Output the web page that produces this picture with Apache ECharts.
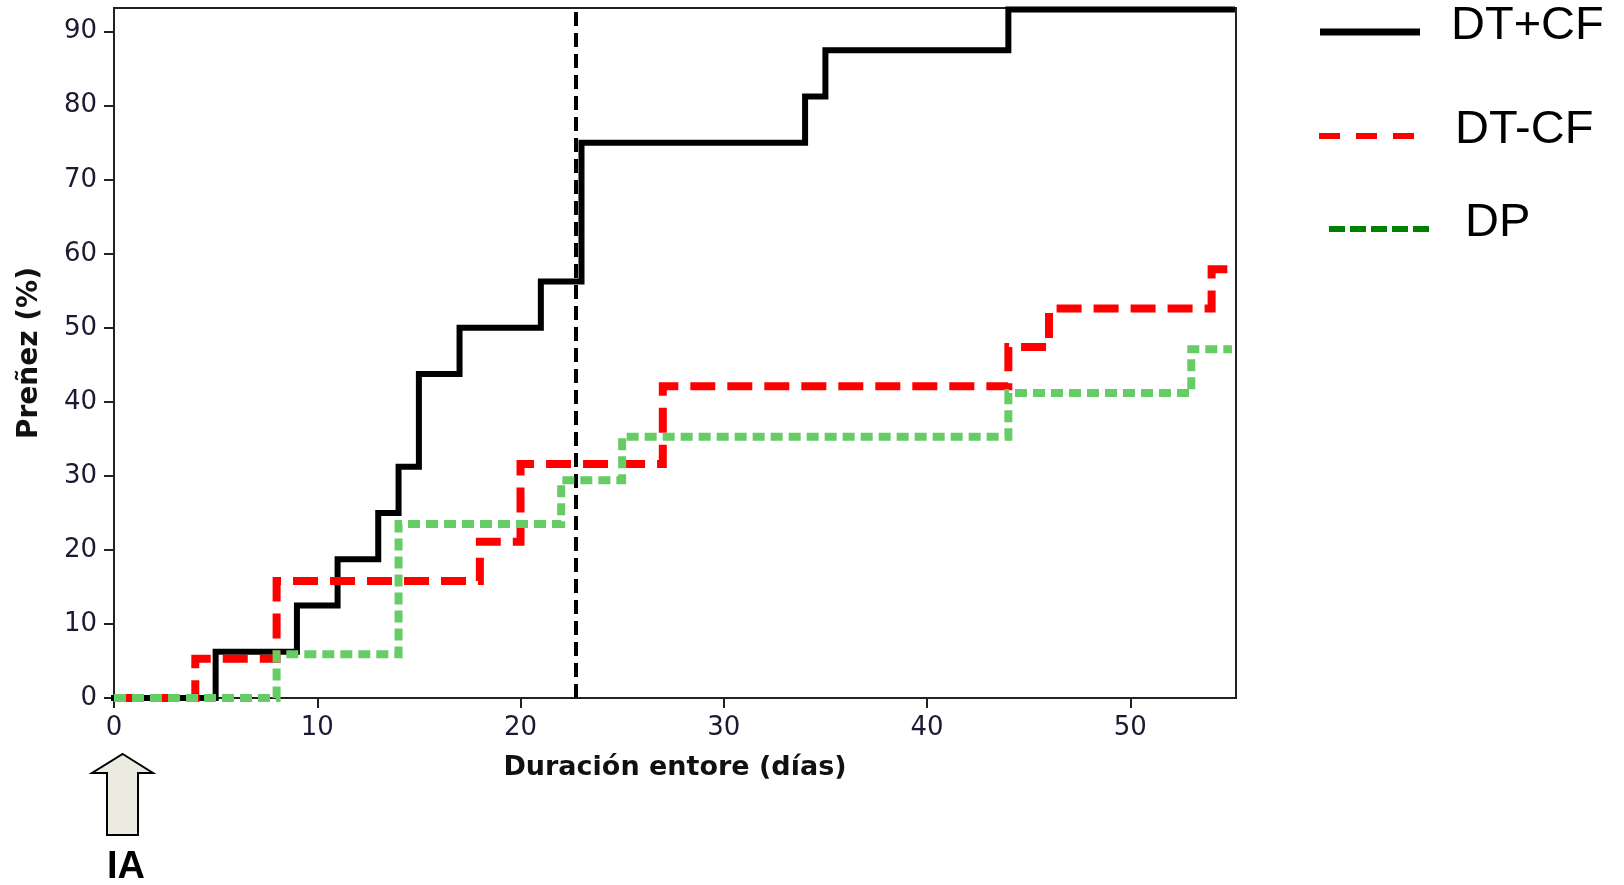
<!DOCTYPE html>
<html>
<head>
<meta charset="utf-8">
<script src="https://cdn.jsdelivr.net/npm/echarts@6/dist/echarts.min.js"></script>
<style>
html,body{margin:0;padding:0;background:#fff;}
#chart{width:1624px;height:885px;}
</style>
</head>
<body>
<div id="chart"></div>
<script>
// ---- data ----
const seriesNames = ['DT+CF', 'DT-CF', 'DP'];
const dtcfPlusX  = [0, 5, 9, 11, 13, 14, 15, 17, 21, 23, 34, 35, 44, 55];
const dtcfPlusY  = [0, 6.25, 12.5, 18.75, 25, 31.25, 43.75, 50, 56.25, 75, 81.25, 87.5, 93, 93];
const dtcfMinusX = [0, 4, 8, 18, 20, 27, 44, 46, 54, 55];
const dtcfMinusY = [0, 5.3, 15.8, 21.1, 31.6, 42.1, 47.4, 52.6, 57.9, 57.9];
const dpX        = [0, 8, 14, 22, 25, 44, 53, 55];
const dpY        = [0, 5.9, 23.5, 29.4, 35.3, 41.2, 47.1, 47.1];
const entoreMark = 22.7;
const xTicks = [0, 10, 20, 30, 40, 50];
const yTicks = [0, 10, 20, 30, 40, 50, 60, 70, 80, 90];
const xTitle = 'Duración entore (días)';
const yTitle = 'Preñez (%)';
const arrowLabel = 'IA';

const zip = (xs, ys) => xs.map((x, i) => [x, ys[i]]);

const chart = echarts.init(document.getElementById('chart'), null, {renderer: 'canvas'});

const tickFont = {fontFamily: 'DejaVu Sans', fontSize: 26, color: '#1a1a33'};

const option = {
  animation: false,
  backgroundColor: '#fff',
  grid: {left: 114, right: 388, top: 8, bottom: 187, show: true, borderColor: '#222', borderWidth: 2, backgroundColor: 'transparent'},
  xAxis: {
    type: 'value', min: 0, max: 55.2,
    name: xTitle, nameLocation: 'middle', nameGap: 56,
    nameTextStyle: {fontFamily: 'DejaVu Sans', fontWeight: 'bold', fontSize: 27, color: '#111'},
    axisLine: {show: true, lineStyle: {color: '#222', width: 2}},
    axisTick: {show: true, length: 10, lineStyle: {color: '#222', width: 2}, customValues: xTicks},
    axisLabel: {...tickFont, margin: 17, customValues: xTicks},
    splitLine: {show: false}
  },
  yAxis: {
    type: 'value', min: 0, max: 93.2,
    name: yTitle, nameLocation: 'middle', nameGap: 70, nameRotate: 90,
    nameTextStyle: {fontFamily: 'DejaVu Sans', fontWeight: 'bold', fontSize: 28, color: '#111'},
    axisLine: {show: true, lineStyle: {color: '#222', width: 2}},
    axisTick: {show: true, length: 10, lineStyle: {color: '#222', width: 2}, customValues: yTicks},
    axisLabel: {...tickFont, margin: 17, customValues: yTicks},
    splitLine: {show: false}
  },
  series: [
    {
      name: seriesNames[0], type: 'line', step: 'end', showSymbol: false, clip: true, z: 3,
      data: zip(dtcfPlusX, dtcfPlusY),
      lineStyle: {color: '#000', width: 6, type: 'solid', cap: 'square', join: 'miter'}
    },
    {
      name: seriesNames[1], type: 'line', step: 'end', showSymbol: false, clip: true, z: 4,
      data: zip(dtcfMinusX, dtcfMinusY),
      lineStyle: {color: '#ff0000', width: 8, type: [25, 12], join: 'miter'}
    },
    {
      name: seriesNames[2], type: 'line', step: 'end', showSymbol: false, clip: true, z: 5,
      data: zip(dpX, dpY),
      lineStyle: {color: '#66cc66', width: 8, type: [12, 6], join: 'miter'}
    },
    {
      name: 'entore', type: 'line', data: [], z: 10,
      markLine: {
        silent: true, symbol: 'none', label: {show: false},
        lineStyle: {color: '#000', width: 4, type: [14, 7]},
        data: [{xAxis: entoreMark}]
      }
    }
  ],
  graphic: [
    // legend
    {type: 'line', shape: {x1: 1320, y1: 32, x2: 1420, y2: 32}, style: {stroke: '#000', lineWidth: 7}},
    {type: 'text', x: 1451, y: 26, style: {text: seriesNames[0], font: '47px "Liberation Sans", Arial', fill: '#000', textVerticalAlign: 'middle'}},
    {type: 'line', shape: {x1: 1319, y1: 136, x2: 1415, y2: 136}, style: {stroke: '#ff0000', lineWidth: 6, lineDash: [21, 16]}},
    {type: 'text', x: 1455, y: 130, style: {text: seriesNames[1], font: '47px "Liberation Sans", Arial', fill: '#000', textVerticalAlign: 'middle'}},
    {type: 'line', shape: {x1: 1329, y1: 229, x2: 1430, y2: 229}, style: {stroke: '#008000', lineWidth: 6, lineDash: [16, 5]}},
    {type: 'text', x: 1465, y: 223, style: {text: seriesNames[2], font: '47px "Liberation Sans", Arial', fill: '#000', textVerticalAlign: 'middle'}},
    // IA arrow
    {type: 'polygon', shape: {points: [[122.7, 754], [153, 773], [138, 773], [138, 835], [107, 835], [107, 773], [92, 773]]},
     style: {fill: '#ecebe0', stroke: '#000', lineWidth: 2}},
    {type: 'text', x: 126, y: 868, style: {text: arrowLabel, font: 'bold 38px "Liberation Sans", Arial', fill: '#000', textAlign: 'center', textVerticalAlign: 'middle'}}
  ]
};
chart.setOption(option);
</script>
</body>
</html>
